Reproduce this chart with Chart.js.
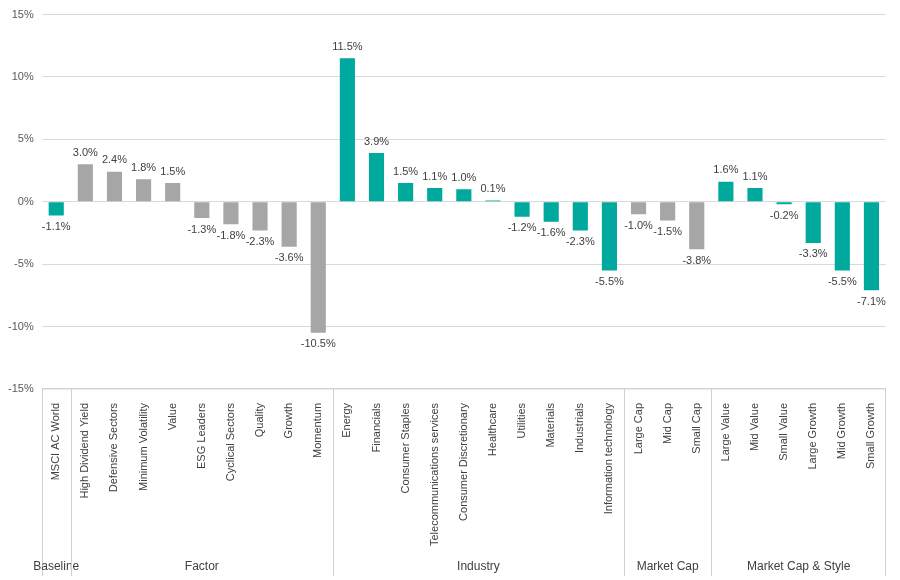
<!DOCTYPE html>
<html>
<head>
<meta charset="utf-8">
<script src="https://cdn.jsdelivr.net/npm/chart.js@4"></script>
<style>
  body { margin: 0; background: #fff; }
  #wrap { width: 900px; height: 580px; }
</style>
</head>
<body>
<div id="wrap"><canvas id="myChart"></canvas></div>
<script>
const labels = [
  "MSCI AC World",
  "High Dividend Yield", "Defensive Sectors", "Minimum Volatility", "Value", "ESG Leaders",
  "Cyclical Sectors", "Quality", "Growth", "Momentum",
  "Energy", "Financials", "Consumer Staples", "Telecommunications services", "Consumer Discretionary",
  "Healthcare", "Utilities", "Materials", "Industrials", "Information technology",
  "Large Cap", "Mid Cap", "Small Cap",
  "Large Value", "Mid Value", "Small Value", "Large Growth", "Mid Growth", "Small Growth",
];
const values = [
  -1.1,
  3.0, 2.4, 1.8, 1.5, -1.3, -1.8, -2.3, -3.6, -10.5,
  11.5, 3.9, 1.5, 1.1, 1.0, 0.1, -1.2, -1.6, -2.3, -5.5,
  -1.0, -1.5, -3.8,
  1.6, 1.1, -0.2, -3.3, -5.5, -7.1,
];
const groups = [
  { name: "Baseline", start: 0, end: 0 },
  { name: "Factor", start: 1, end: 9 },
  { name: "Industry", start: 10, end: 19 },
  { name: "Market Cap", start: 20, end: 22 },
  { name: "Market Cap & Style", start: 23, end: 28 },
];
const teal = "#00a99d";
const grey = "#a6a6a6";
const greyGroups = ["Factor", "Market Cap"];

const colors = labels.map((_, i) => {
  const g = groups.find((g) => i >= g.start && i <= g.end);
  return greyGroups.includes(g.name) ? grey : teal;
});

const extras = {
  id: "extras",
  afterDatasetsDraw(chart) {
    const c = chart.ctx;
    const meta = chart.getDatasetMeta(0);
    c.save();
    c.font = "11px 'Liberation Sans', Arial, sans-serif";
    c.fillStyle = "#404040";
    c.textAlign = "center";
    meta.data.forEach((bar, i) => {
      const v = values[i];
      if (v >= 0) {
        c.textBaseline = "bottom";
        c.fillText(v.toFixed(1) + "%", bar.x, bar.y - 6);
      } else {
        c.textBaseline = "top";
        c.fillText(v.toFixed(1) + "%", bar.x, bar.y + 6);
      }
    });
    const x = chart.scales.x;
    const area = chart.chartArea;
    const slot = x.getPixelForValue(1) - x.getPixelForValue(0);
    const bottom = chart.height - 4;
    c.strokeStyle = "#d0d0d0";
    c.lineWidth = 1;
    c.beginPath();
    c.moveTo(area.left, area.bottom);
    c.lineTo(area.right, area.bottom);
    c.stroke();
    c.font = "12px 'Liberation Sans', Arial, sans-serif";
    c.textBaseline = "middle";
    groups.forEach((g, k) => {
      const l = x.getPixelForValue(g.start) - slot / 2;
      const r = x.getPixelForValue(g.end) + slot / 2;
      c.beginPath();
      c.moveTo(Math.round(l) + 0.5, area.bottom);
      c.lineTo(Math.round(l) + 0.5, bottom);
      if (k === groups.length - 1) {
        c.moveTo(Math.round(r) - 0.5, area.bottom);
        c.lineTo(Math.round(r) - 0.5, bottom);
      }
      c.stroke();
      c.fillText(g.name, (l + r) / 2, chart.height - 13);
    });
    c.restore();
  },
};

new Chart(document.getElementById("myChart"), {
  type: "bar",
  data: {
    labels: labels,
    datasets: [{
      data: values,
      backgroundColor: colors,
      barPercentage: 0.52,
      categoryPercentage: 1,
    }],
  },
  options: {
    responsive: true,
    maintainAspectRatio: false,
    animation: false,
    layout: { padding: { top: 6, right: 14, bottom: 28, left: 0 } },
    plugins: { legend: { display: false }, tooltip: { enabled: false } },
    scales: {
      x: {
        grid: { display: false },
        border: { display: false },
        ticks: {
          color: "#404040",
          font: { size: 11, family: "'Liberation Sans', Arial, sans-serif" },
          autoSkip: false,
          maxRotation: 90,
          minRotation: 90,
          padding: 6,
        },
      },
      y: {
        min: -15,
        max: 15,
        grid: { color: "#d9d9d9", drawTicks: false },
        border: { display: false },
        ticks: {
          stepSize: 5,
          padding: 8,
          color: "#595959",
          font: { size: 11, family: "'Liberation Sans', Arial, sans-serif" },
          callback: (v) => v + "%",
        },
      },
    },
  },
  plugins: [extras],
});
</script>
</body>
</html>
